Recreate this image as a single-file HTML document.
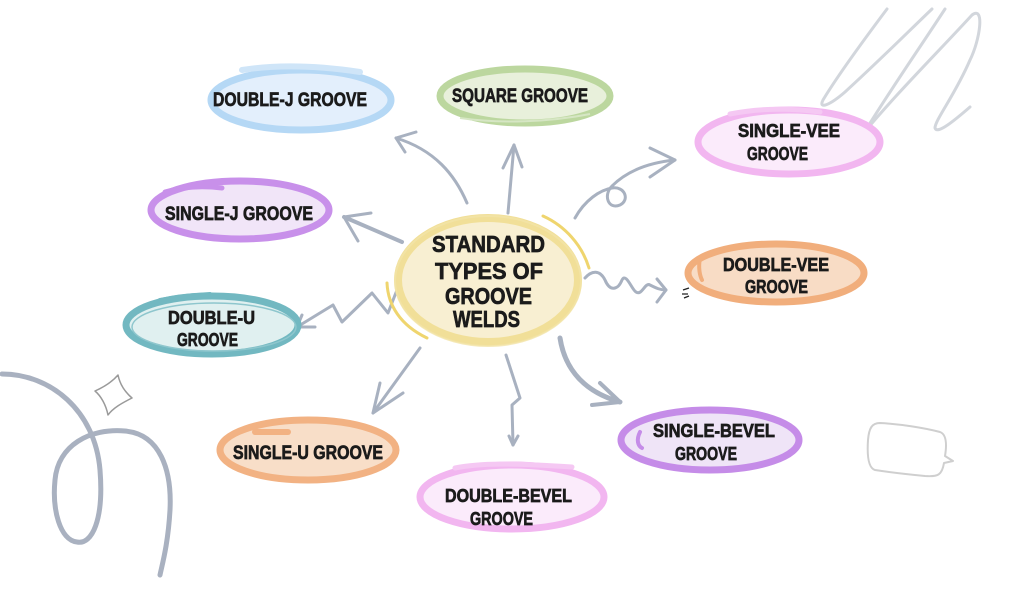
<!DOCTYPE html>
<html><head><meta charset="utf-8"><style>
html,body{margin:0;padding:0;background:#fff;}
svg{display:block;}
text{font-family:"Liberation Sans",sans-serif;font-weight:bold;fill:#1b1b1b;stroke:#1b1b1b;stroke-width:0.7;}
</style></head><body>
<svg width="1024" height="606" viewBox="0 0 1024 606" xmlns="http://www.w3.org/2000/svg">
<rect width="1024" height="606" fill="#fff"/>

<!-- top-right scribble -->
<path d="M887 9 C860 45 835 80 823 100 C818 110 830 105 845 92 C880 60 910 30 932 9" fill="none" stroke="#d2d6dc" stroke-width="3" stroke-linecap="round"/>
<path d="M945 9 C915 55 880 105 858 143" fill="none" stroke="#d2d6dc" stroke-width="3" stroke-linecap="round"/>
<path d="M858 140 C890 100 940 50 972 15 C985 5 980 40 970 60 C955 95 935 120 935 128 C937 135 955 120 970 107" fill="none" stroke="#d2d6dc" stroke-width="3" stroke-linecap="round"/>

<!-- bottom-left squiggle -->
<path d="M2 374 C50 374 95 410 100 470 C104 520 92 545 77 542 C60 540 52 510 55 480 C58 445 90 428 125 431 C160 434 172 470 170 510 C168 545 162 565 160 575" fill="none" stroke="#a9b1c0" stroke-width="5" stroke-linecap="round"/>
<!-- sparkle -->
<path d="M118 375 C120 385 125 392 132 398 C122 403 113 408 108 415 C106 405 101 396 95 391 C104 387 112 382 118 375 Z" fill="none" stroke="#9a9a9a" stroke-width="1.5" stroke-linejoin="round"/>
<!-- speech bubble -->
<path d="M880 423 C900 424 925 428 940 432 C948 435 946 450 945 456 L953 461 L944 463 C942 475 938 477 925 476 C905 474 888 472 875 470 C868 468 867 455 868 440 C869 428 872 423 880 423 Z" fill="none" stroke="#cfcfcf" stroke-width="2" stroke-linejoin="round"/>

<!-- connectors -->
<g fill="none" stroke="#a8b1c0" stroke-width="3" stroke-linecap="round" stroke-linejoin="round">
  <path d="M467 203 C455 175 435 150 396 138"/>
  <path d="M416 132 L396 138 L405 152"/>
  <path d="M508 213 L514 145"/>
  <path d="M503 168 L514 145 L522 167"/>
  <path d="M402 242 L344 217" stroke-width="4"/>
  <path d="M371 213 L344 217 L358 241"/>
  <path d="M397 290 L388 313 L372 293 L342 322 L333 305 L297 327"/>
  <path d="M302 315 L297 327 L315 327"/>
  <path d="M420 348 L373 413"/>
  <path d="M380 383 L373 413 L403 393"/>
  <path d="M506 355 L520 398 L512 405 L513 445"/>
  <path d="M509 436 L513 445 L518 436"/>
  <path d="M560 338 C565 370 585 392 620 402" stroke-width="5"/>
  <path d="M600 383 L620 402 L592 405" stroke-width="4"/>
  <path d="M575 218 C585 200 600 190 612 188 C625 186 630 200 620 205 C608 210 603 195 612 186 C630 168 655 162 675 160"/>
  <path d="M650 148 L675 160 L650 177"/>
  <path d="M585 278 C592 270 600 270 605 280 C610 292 618 290 622 280 C626 272 632 290 636 292 C642 296 645 282 650 285 C656 288 660 290 666 290"/>
  <path d="M657 279 L666 290 L657 302"/>
</g>
<path d="M683 290 l6 -2 M682 294 l6 0 M684 298 l5 -2" stroke="#222" stroke-width="1.3" fill="none"/>

<!-- central node -->
<ellipse cx="488" cy="280" rx="90" ry="62" fill="#f8efd2" stroke="#f1df98" stroke-width="8"/>
<ellipse cx="488" cy="281" rx="93" ry="65" fill="none" stroke="#f3e4a8" stroke-width="2" opacity="0.8"/>
<path d="M543 216 C565 226 582 245 589 268" fill="none" stroke="#efd56e" stroke-width="3" stroke-linecap="round"/>
<path d="M387 283 C388 305 400 325 427 338" fill="none" stroke="#efd56e" stroke-width="3" stroke-linecap="round"/>
<text x="432" y="252" font-size="23" textLength="113" lengthAdjust="spacingAndGlyphs">STANDARD</text>
<text x="435" y="279" font-size="23" textLength="108" lengthAdjust="spacingAndGlyphs">TYPES OF</text>
<text x="445" y="304" font-size="23" textLength="87" lengthAdjust="spacingAndGlyphs">GROOVE</text>
<text x="453" y="327" font-size="23" textLength="67" lengthAdjust="spacingAndGlyphs">WELDS</text>

<!-- Double-J -->
<ellipse cx="301" cy="100" rx="90" ry="30" fill="#e3effc" stroke="#b5d8f5" stroke-width="7"/>
<path d="M242 70 C280 64 320 66 360 72" fill="none" stroke="#cfe5f8" stroke-width="6" stroke-linecap="round"/>
<text x="213" y="106" font-size="19" textLength="154" lengthAdjust="spacingAndGlyphs">DOUBLE-J GROOVE</text>

<!-- Square -->
<ellipse cx="525" cy="96" rx="85" ry="27" fill="#e8f0db" stroke="#bcd79f" stroke-width="7"/>
<path d="M460 118 C500 124 550 122 590 114" fill="none" stroke="#d6e6c4" stroke-width="2"/>
<text x="452" y="102" font-size="19" textLength="136" lengthAdjust="spacingAndGlyphs">SQUARE GROOVE</text>

<!-- Single-Vee -->
<ellipse cx="789" cy="142" rx="91" ry="32" fill="#fbebfb" stroke="#f2b6f0" stroke-width="7"/>
<path d="M730 114 C760 108 790 108 820 112" fill="none" stroke="#f5c8f3" stroke-width="5" stroke-linecap="round"/>
<text x="738" y="137" font-size="18" textLength="102" lengthAdjust="spacingAndGlyphs">SINGLE-VEE</text>
<text x="747" y="160" font-size="18" textLength="61" lengthAdjust="spacingAndGlyphs">GROOVE</text>

<!-- Single-J -->
<ellipse cx="240" cy="210" rx="89" ry="29" fill="#f1e5f8" stroke="#c890ea" stroke-width="7"/>
<path d="M165 192 C185 186 205 186 222 188" fill="none" stroke="#c890ea" stroke-width="5" stroke-linecap="round"/>
<text x="165" y="220" font-size="19" textLength="148" lengthAdjust="spacingAndGlyphs">SINGLE-J GROOVE</text>

<!-- Double-Vee -->
<ellipse cx="776" cy="273" rx="88" ry="29" fill="#f8dcc5" stroke="#f1ae7c" stroke-width="7"/>
<path d="M700 258 C698 268 700 276 702 280" fill="none" stroke="#f1ae7c" stroke-width="4" stroke-linecap="round"/>
<text x="723" y="271" font-size="18" textLength="106" lengthAdjust="spacingAndGlyphs">DOUBLE-VEE</text>
<text x="745" y="293" font-size="18" textLength="63" lengthAdjust="spacingAndGlyphs">GROOVE</text>

<!-- Double-U -->
<ellipse cx="212" cy="325" rx="86" ry="29" fill="#e0f0f0" stroke="#72b8c1" stroke-width="7"/>
<ellipse cx="214" cy="327" rx="82" ry="24" fill="none" stroke="#8ec6cd" stroke-width="1.5"/>
<path d="M160 300 C180 296 195 295 210 294" fill="none" stroke="#72b8c1" stroke-width="4" stroke-linecap="round"/>
<text x="168" y="324" font-size="18" textLength="87" lengthAdjust="spacingAndGlyphs">DOUBLE-U</text>
<text x="177" y="346" font-size="18" textLength="61" lengthAdjust="spacingAndGlyphs">GROOVE</text>

<!-- Single-U -->
<ellipse cx="308" cy="450" rx="88" ry="30" fill="#f8dec8" stroke="#f2b283" stroke-width="7"/>
<path d="M255 432 L288 432" stroke="#f2b283" stroke-width="6" stroke-linecap="round"/>
<text x="233" y="459" font-size="19" textLength="150" lengthAdjust="spacingAndGlyphs">SINGLE-U GROOVE</text>

<!-- Double-Bevel -->
<ellipse cx="512" cy="497" rx="92" ry="32" fill="#fbebfb" stroke="#f2b6f0" stroke-width="7"/>
<path d="M455 468 C480 463 510 463 572 467" fill="none" stroke="#f5c8f3" stroke-width="5" stroke-linecap="round"/>
<text x="445" y="502" font-size="18" textLength="127" lengthAdjust="spacingAndGlyphs">DOUBLE-BEVEL</text>
<text x="470" y="525" font-size="18" textLength="63" lengthAdjust="spacingAndGlyphs">GROOVE</text>

<!-- Single-Bevel -->
<ellipse cx="710" cy="440" rx="89" ry="30" fill="#efe4f7" stroke="#c58ce8" stroke-width="7"/>
<path d="M640 432 C636 440 638 446 642 448" fill="none" stroke="#c58ce8" stroke-width="4" stroke-linecap="round"/>
<text x="653" y="437" font-size="18" textLength="122" lengthAdjust="spacingAndGlyphs">SINGLE-BEVEL</text>
<text x="675" y="460" font-size="18" textLength="62" lengthAdjust="spacingAndGlyphs">GROOVE</text>
</svg>
</body></html>
